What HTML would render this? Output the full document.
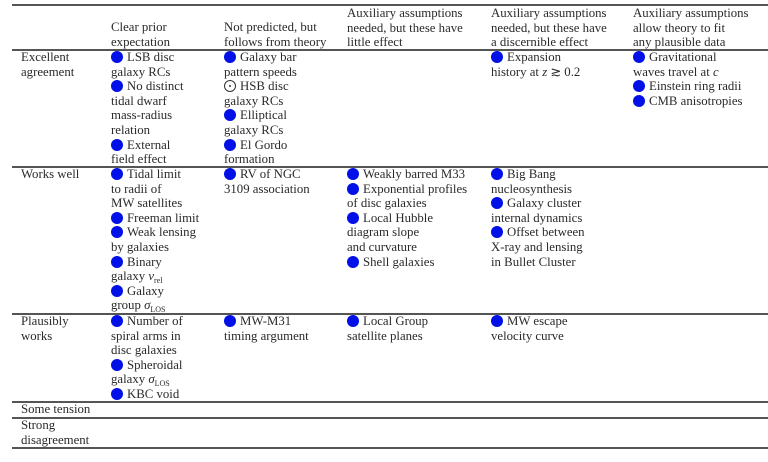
<!DOCTYPE html>
<html><head><meta charset="utf-8"><style>
body{margin:0;width:768px;height:462px;background:#fff;position:relative;overflow:hidden;font-family:"Liberation Serif",serif;font-size:12.8px;color:#2a2a2a}
.c{position:absolute;line-height:14.6px;white-space:nowrap}
.r{position:absolute;left:12px;width:756px;background:#555}
.d{display:inline-block;width:12px;height:12px;border-radius:50%;background:#0010e6;vertical-align:-2px;margin-right:4px}
.o{display:inline-block;width:10px;height:10px;border-radius:50%;border:1px solid #333;vertical-align:-2px;margin-right:4px;position:relative}
.o:after{content:"";position:absolute;left:4px;top:4px;width:2px;height:2px;background:#333;border-radius:50%}
sub{font-size:8px;line-height:0;vertical-align:baseline;position:relative;top:3px}
</style></head><body>
<div class="r" style="top:4px;height:2px"></div>
<div class="r" style="top:49px;height:1.5px"></div>
<div class="r" style="top:166px;height:1.5px"></div>
<div class="r" style="top:313px;height:1.5px"></div>
<div class="r" style="top:401px;height:1.5px"></div>
<div class="r" style="top:417px;height:1.5px"></div>
<div class="r" style="top:447px;height:1.5px"></div>

<div class="c" style="left:111px;top:20px">Clear prior<br>expectation</div>
<div class="c" style="left:224px;top:20px">Not predicted, but<br>follows from theory</div>
<div class="c" style="left:347px;top:6px">Auxiliary assumptions<br>needed, but these have<br>little effect</div>
<div class="c" style="left:491px;top:6px">Auxiliary assumptions<br>needed, but these have<br>a discernible effect</div>
<div class="c" style="left:633px;top:6px">Auxiliary assumptions<br>allow theory to fit<br>any plausible data</div>

<div class="c" style="left:21px;top:50px">Excellent<br>agreement</div>
<div class="c" style="left:111px;top:50px"><span class="d"></span>LSB disc<br>galaxy RCs<br><span class="d"></span>No distinct<br>tidal dwarf<br>mass-radius<br>relation<br><span class="d"></span>External<br>field effect</div>
<div class="c" style="left:224px;top:50px"><span class="d"></span>Galaxy bar<br>pattern speeds<br><span class="o"></span>HSB disc<br>galaxy RCs<br><span class="d"></span>Elliptical<br>galaxy RCs<br><span class="d"></span>El Gordo<br>formation</div>
<div class="c" style="left:491px;top:50px"><span class="d"></span>Expansion<br>history at <i>z</i> &#x2273; 0.2</div>
<div class="c" style="left:633px;top:50px"><span class="d"></span>Gravitational<br>waves travel at <i>c</i><br><span class="d"></span>Einstein ring radii<br><span class="d"></span>CMB anisotropies</div>

<div class="c" style="left:21px;top:167px">Works well</div>
<div class="c" style="left:111px;top:167px"><span class="d"></span>Tidal limit<br>to radii of<br>MW satellites<br><span class="d"></span>Freeman limit<br><span class="d"></span>Weak lensing<br>by galaxies<br><span class="d"></span>Binary<br>galaxy <i>v</i><sub>rel</sub><br><span class="d"></span>Galaxy<br>group <i>σ</i><sub>LOS</sub></div>
<div class="c" style="left:224px;top:167px"><span class="d"></span>RV of NGC<br>3109 association</div>
<div class="c" style="left:347px;top:167px"><span class="d"></span>Weakly barred M33<br><span class="d"></span>Exponential profiles<br>of disc galaxies<br><span class="d"></span>Local Hubble<br>diagram slope<br>and curvature<br><span class="d"></span>Shell galaxies</div>
<div class="c" style="left:491px;top:167px"><span class="d"></span>Big Bang<br>nucleosynthesis<br><span class="d"></span>Galaxy cluster<br>internal dynamics<br><span class="d"></span>Offset between<br>X-ray and lensing<br>in Bullet Cluster</div>

<div class="c" style="left:21px;top:314px">Plausibly<br>works</div>
<div class="c" style="left:111px;top:314px"><span class="d"></span>Number of<br>spiral arms in<br>disc galaxies<br><span class="d"></span>Spheroidal<br>galaxy <i>σ</i><sub>LOS</sub><br><span class="d"></span>KBC void</div>
<div class="c" style="left:224px;top:314px"><span class="d"></span>MW-M31<br>timing argument</div>
<div class="c" style="left:347px;top:314px"><span class="d"></span>Local Group<br>satellite planes</div>
<div class="c" style="left:491px;top:314px"><span class="d"></span>MW escape<br>velocity curve</div>

<div class="c" style="left:21px;top:402px">Some tension</div>
<div class="c" style="left:21px;top:418px">Strong<br>disagreement</div>
</body></html>
